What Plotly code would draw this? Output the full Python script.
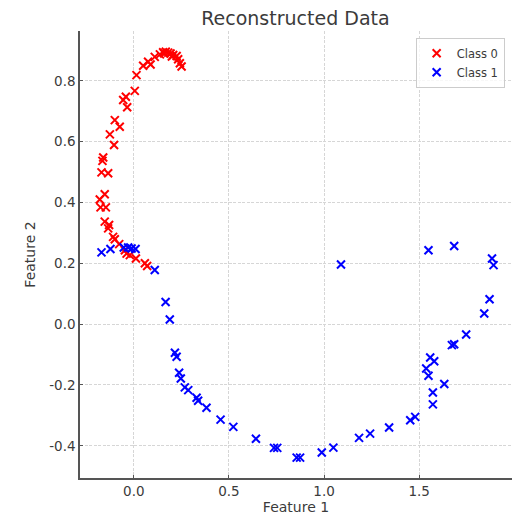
import plotly.graph_objects as go

class0_x = [0.014, 0.005, 0.049, 0.075, 0.088, 0.110, 0.137, 0.154, 0.168, 0.181, 0.193, 0.207,
            0.225, 0.233, 0.242, 0.251, 0.160, 0.200, -0.056, -0.042, -0.035, -0.100, -0.074,
            -0.126, -0.104, -0.161, -0.165, -0.170, -0.135, -0.153, -0.179, -0.175, -0.147,
            -0.153, -0.130, -0.135, -0.109, -0.100, -0.077, -0.047, -0.038, -0.021, 0.011,
            0.058, 0.070]
class0_y = [0.819, 0.767, 0.850, 0.863, 0.854, 0.879, 0.887, 0.894, 0.896, 0.893, 0.890, 0.885,
            0.882, 0.871, 0.858, 0.847, 0.890, 0.880, 0.737, 0.748, 0.713, 0.671, 0.649,
            0.624, 0.589, 0.548, 0.537, 0.499, 0.496, 0.427, 0.410, 0.384, 0.384,
            0.337, 0.326, 0.315, 0.287, 0.279, 0.263, 0.243, 0.232, 0.227, 0.216,
            0.200, 0.191]

class1_x = [-0.170, -0.123, -0.053, -0.030, -0.012, 0.009, 0.110, 0.167, 0.189, 0.216, 0.225,
            0.238, 0.247, 0.268, 0.286, 0.330, 0.338, 0.382, 0.456, 0.523, 0.642, 0.737,
            0.754, 0.856, 0.874, 0.988, 1.049, 1.089, 1.184, 1.242, 1.342, 1.453, 1.479,
            1.549, 1.684, 1.883, 1.891, 1.870, 1.842, 1.747, 1.672, 1.684, 1.558, 1.579,
            1.537, 1.549, 1.632, 1.572, 1.572]
class1_y = [0.236, 0.247, 0.252, 0.252, 0.249, 0.247, 0.178, 0.073, 0.015, -0.094, -0.107,
            -0.160, -0.179, -0.208, -0.217, -0.242, -0.252, -0.275, -0.314, -0.338, -0.377, -0.407,
            -0.407, -0.439, -0.439, -0.422, -0.406, 0.196, -0.374, -0.360, -0.340, -0.316, -0.305,
            0.243, 0.257, 0.216, 0.194, 0.082, 0.035, -0.034, -0.069, -0.066, -0.110, -0.122,
            -0.146, -0.170, -0.197, -0.225, -0.264]

x_ticks = [0.0, 0.5, 1.0, 1.5]
y_ticks = [-0.4, -0.2, 0.0, 0.2, 0.4, 0.6, 0.8]

FONT = "DejaVu Sans"
TXT = "#3b3b3b"

fig = go.Figure()
for name, xs, ys, col in [("Class 0", class0_x, class0_y, "red"),
                          ("Class 1", class1_x, class1_y, "blue")]:
    fig.add_trace(go.Scatter(
        x=xs, y=ys, mode="markers", name=name,
        marker=dict(symbol="x-thin", size=8, color=col,
                    line=dict(width=2, color=col)),
    ))

axis_common = dict(
    showgrid=True, gridcolor="#d6d6d6", griddash="3px,1.5px", gridwidth=1,
    zeroline=False, showline=True, linecolor="#555555", linewidth=1.5,
    ticks="inside", ticklen=3, tickcolor="#555555",
    tickfont=dict(family=FONT, size=13.5, color=TXT),
    mirror=False,
)

fig.update_layout(
    width=512, height=518,
    margin=dict(l=80, r=0, t=31, b=40),
    paper_bgcolor="white", plot_bgcolor="white",
    font=dict(family=FONT, color=TXT),
    title=dict(text="Reconstructed Data", x=0.577, xanchor="center",
               y=0.965, yanchor="middle",
               font=dict(family=FONT, size=19, color=TXT)),
    xaxis=dict(range=[-0.283, 1.988], tickvals=x_ticks,
               ticktext=[f"{v:.1f}" for v in x_ticks],
               title=dict(text="Feature 1", font=dict(family=FONT, size=14, color=TXT), standoff=4),
               **axis_common),
    yaxis=dict(range=[-0.506, 0.964], tickvals=y_ticks,
               ticktext=[f"{v:.1f}" for v in y_ticks],
               title=dict(text="Feature 2", font=dict(family=FONT, size=14, color=TXT), standoff=10),
               **axis_common),
    legend=dict(x=0.983, y=0.985, xanchor="right", yanchor="top",
                bgcolor="rgba(255,255,255,0.8)", bordercolor="#cccccc", borderwidth=1,
                font=dict(family=FONT, size=11.5, color=TXT), tracegroupgap=0,
                itemwidth=30),
    showlegend=True,
)

fig.write_html("out.html")
